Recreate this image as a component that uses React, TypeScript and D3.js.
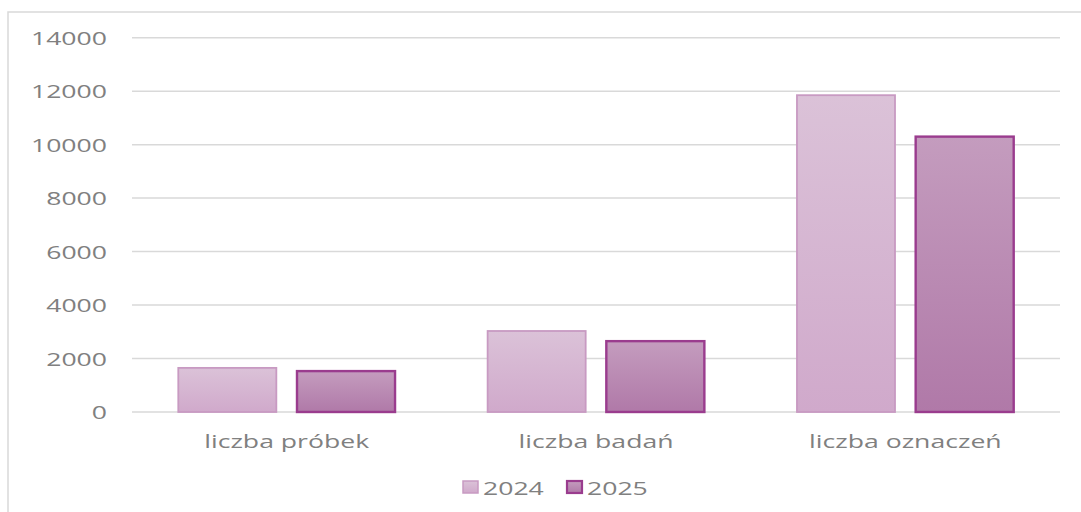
import React from "react";
import * as d3 from "d3";

const categories = ["liczba próbek", "liczba badań", "liczba oznaczeń"];
const seriesNames = ["2024", "2025"];
const values2024 = [1650, 3030, 11850];
const values2025 = [1530, 2650, 10300];
const yTicks = [0, 2000, 4000, 6000, 8000, 10000, 12000, 14000];

const W = 1081;
const H = 512;
const plotLeft = 132;
const plotRight = 1060;
const plotTop = 37.7;
const plotBottom = 412;
const SX = 1.4;
const FONT = "'Open Sans', 'Liberation Sans', sans-serif";
const TEXT = "#808080";

const fills = ["url(#g2024)", "url(#g2025)"];
const strokes = ["#c89ac2", "#9a3c8e"];

function SText({ x, y, anchor, children, size = 19 }: any) {
  return (
    <g transform={`translate(${x},${y}) scale(${SX},1)`}>
      <text x={0} y={0} textAnchor={anchor} fontFamily={FONT} fontSize={size} fill={TEXT}>
        {children}
      </text>
    </g>
  );
}

export default function App() {
  const y = d3.scaleLinear().domain([0, 14000]).range([plotBottom, plotTop]);
  const x0 = d3.scaleBand<string>().domain(categories).range([plotLeft, plotRight]).padding(0);
  const x1 = d3
    .scaleBand<string>()
    .domain(seriesNames)
    .range([0, x0.bandwidth()])
    .paddingInner(0.174)
    .paddingOuter(0.39);
  const data = [values2024, values2025];

  return (
    <svg
      width={W}
      height={H}
      style={{ position: "absolute", left: 0, top: 0, background: "#fff" }}
    >
      <defs>
        <linearGradient id="g2024" x1="0" y1="0" x2="0" y2="1">
          <stop offset="0" stopColor="#dbc2d8" />
          <stop offset="1" stopColor="#d0a9cb" />
        </linearGradient>
        <linearGradient id="g2025" x1="0" y1="0" x2="0" y2="1">
          <stop offset="0" stopColor="#c49cbe" />
          <stop offset="1" stopColor="#b079a8" />
        </linearGradient>
      </defs>
      <rect x={8} y={12} width={1200} height={600} fill="#fff" stroke="#d9d9d9" strokeWidth={1.5} />
      {yTicks.map((t) => (
        <g key={t}>
          <line
            x1={plotLeft}
            x2={plotRight}
            y1={y(t)}
            y2={y(t)}
            stroke="#d9d9d9"
            strokeWidth={1.5}
          />
          <SText x={107} y={y(t) + 7} anchor="end">
            {String(t)}
          </SText>
        </g>
      ))}
      {categories.map((c, ci) => (
        <g key={c} transform={`translate(${x0(c)},0)`}>
          {seriesNames.map((s, si) => (
            <rect
              key={s}
              x={x1(s)}
              y={y(data[si][ci])}
              width={x1.bandwidth()}
              height={plotBottom - y(data[si][ci])}
              fill={fills[si]}
              stroke={strokes[si]}
              strokeWidth={si === 0 ? 1.8 : 2.4}
            />
          ))}
        </g>
      ))}
      {categories.map((c) => (
        <SText key={c} x={(x0(c) as number) + x0.bandwidth() / 2} y={448} anchor="middle">
          {c}
        </SText>
      ))}
      {seriesNames.map((s, si) => {
        const lx = si === 0 ? 462 : 566;
        return (
          <g key={s}>
            <rect
              x={lx + 1}
              y={481}
              width={15}
              height={12}
              fill={fills[si]}
              stroke={strokes[si]}
              strokeWidth={si === 0 ? 1.5 : 2.2}
            />
            <SText x={lx + 21} y={495} anchor="start">
              {s}
            </SText>
          </g>
        );
      })}
    </svg>
  );
}
